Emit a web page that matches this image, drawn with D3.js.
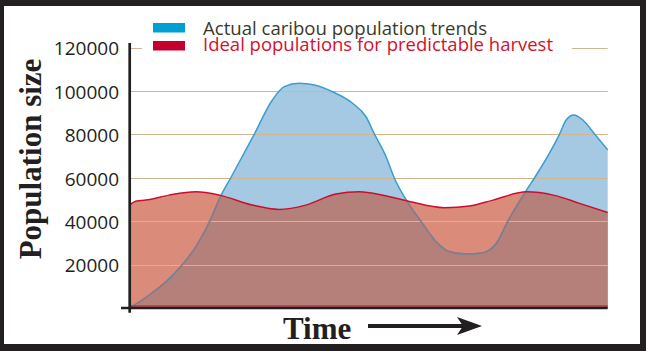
<!DOCTYPE html>
<html>
<head>
<meta charset="utf-8">
<script src="https://cdn.jsdelivr.net/npm/d3@7"></script>
<style>
  html, body { margin: 0; padding: 0; background: #231f20; }
  svg { display: block; }
</style>
</head>
<body>
<svg id="chart" width="646" height="351"></svg>
<script>
// ---- Data ----
const seriesNames = ["Actual caribou population trends", "Ideal populations for predictable harvest"];
const yTicks = [20000, 40000, 60000, 80000, 100000, 120000];

const actualTime = [0, 4.6, 7.8, 10.9, 13.8, 16.6, 19.0, 21.1, 26.0, 29.8, 32.3, 35.4, 38.6, 42.4, 46.6, 49.4, 51.2, 53.6, 55.3, 58.1, 60.9, 64.1, 66.9, 70.4, 73.9, 76.7, 79.1, 83.0, 84.7, 89.9, 91.3, 92.9, 94.8, 97.3, 100];
const actualPop  = [0, 6900, 12600, 19800, 28300, 39600, 51600, 60000, 80000, 95800, 102000, 103500, 102700, 99600, 94300, 88100, 80000, 69700, 60000, 48800, 40000, 30500, 25900, 24900, 25500, 29800, 40000, 54300, 60000, 80000, 86600, 88900, 86600, 80000, 72800];

const idealTime = [0, 1.2, 3.3, 8.2, 13.8, 18.7, 25.6, 31.2, 36.8, 43.1, 48.0, 53.2, 58.1, 65.8, 71.1, 76.0, 83.0, 88.6, 94.1, 100];
const idealPop  = [47500, 49200, 49700, 52000, 53500, 52000, 47400, 45400, 47400, 52500, 53500, 51800, 49300, 46200, 47000, 49700, 53500, 52000, 48200, 44000];

// ---- Layout ----
const svg = d3.select("#chart");
const plotL = 131, plotR = 607.7, y0 = 308, yTop = 47.5;

// white panel inside black frame
svg.append("rect").attr("x", 4).attr("y", 6).attr("width", 636).attr("height", 338).attr("fill", "#ffffff");

const x = d3.scaleLinear().domain([0, 100]).range([plotL - 1, plotR]);
const y = d3.scaleLinear().domain([0, 120000]).range([y0, yTop]);

const actual = actualTime.map((t, i) => ({t, v: actualPop[i]}));
const ideal = idealTime.map((t, i) => ({t, v: idealPop[i]}));

const curve = d3.curveMonotoneX;
const area = d3.area().x(d => x(d.t)).y0(y(0)).y1(d => y(d.v)).curve(curve);
const line = d3.line().x(d => x(d.t)).y(d => y(d.v)).curve(curve);

const defs = svg.append("defs");
defs.append("clipPath").attr("id", "clipActual").append("path").attr("d", area(actual));
defs.append("clipPath").attr("id", "clipIdeal").append("path").attr("d", area(ideal));

// areas
svg.append("path").attr("d", area(actual)).attr("fill", "#a6c9e3");
svg.append("path").attr("d", area(ideal)).attr("fill", "#db8b7a");
svg.append("path").attr("d", area(ideal)).attr("fill", "#b5807a").attr("clip-path", "url(#clipActual)");

// gridlines
svg.append("g").selectAll("line").data(yTicks).join("line")
  .attr("x1", plotL).attr("x2", plotR)
  .attr("y1", d => Math.round(y(d)) + 0.5).attr("y2", d => Math.round(y(d)) + 0.5)
  .attr("stroke", "#d0b693").attr("stroke-width", 1.1);

// lines
svg.append("path").attr("d", line(actual)).attr("fill", "none").attr("stroke", "#3b9dcd").attr("stroke-width", 1.5);
svg.append("path").attr("d", line(actual)).attr("fill", "none").attr("stroke", "#927780").attr("stroke-width", 1.5).attr("clip-path", "url(#clipIdeal)");
svg.append("path").attr("d", line(ideal)).attr("fill", "none").attr("stroke", "#c8102e").attr("stroke-width", 1.5);

// red bottom edge
svg.append("line").attr("x1", plotL).attr("x2", plotR).attr("y1", y0 - 2).attr("y2", y0 - 2)
  .attr("stroke", "#c8102e").attr("stroke-width", 1.2);

// axes
svg.append("line").attr("x1", 121).attr("x2", plotR).attr("y1", y0).attr("y2", y0)
  .attr("stroke", "#231f20").attr("stroke-width", 2.7);
svg.append("line").attr("x1", 129.7).attr("x2", 129.7).attr("y1", 43).attr("y2", 312.7)
  .attr("stroke", "#231f20").attr("stroke-width", 2.7);

// tick labels
svg.append("g").selectAll("text").data(yTicks).join("text")
  .attr("x", 119).attr("y", d => y(d) + 7.8)
  .attr("text-anchor", "end")
  .attr("font-family", "'Open Sans', sans-serif").attr("font-size", 19)
  .attr("fill", "#231f20")
  .text(d => d);

// legend (white backing box)
svg.append("rect").attr("x", 142).attr("y", 12).attr("width", 430).attr("height", 44).attr("fill", "#ffffff");
const legendColors = ["#009fd1", "#c4002f"];
const legendText = ["#383b2a", "#d3112e"];
const legendLen = [284, 350];
const leg = svg.append("g");
seriesNames.forEach((name, i) => {
  leg.append("rect").attr("x", 153).attr("y", 23 + i * 18).attr("width", 32).attr("height", 9.5).attr("fill", legendColors[i]);
  leg.append("text").attr("x", 203).attr("y", 34.7 + i * 16.6)
    .attr("font-family", "'Open Sans', sans-serif").attr("font-size", 17.5)
    .attr("fill", legendText[i])
    .attr("textLength", legendLen[i]).attr("lengthAdjust", "spacingAndGlyphs")
    .text(name);
});

// axis titles
svg.append("text")
  .attr("transform", "translate(41,159) rotate(-90)")
  .attr("text-anchor", "middle")
  .attr("font-family", "'Liberation Serif', 'Times New Roman', serif").attr("font-weight", "bold")
  .attr("font-size", 31).attr("fill", "#231f20")
  .text("Population size");

svg.append("text")
  .attr("x", 283).attr("y", 339)
  .attr("font-family", "'Liberation Serif', 'Times New Roman', serif").attr("font-weight", "bold")
  .attr("font-size", 31).attr("fill", "#231f20")
  .text("Time");

// arrow
svg.append("line").attr("x1", 368).attr("x2", 466).attr("y1", 326).attr("y2", 326)
  .attr("stroke", "#231f20").attr("stroke-width", 4);
svg.append("path").attr("d", "M482,326 L457,317 L463,326 L457,335 Z").attr("fill", "#231f20");
</script>
</body>
</html>
